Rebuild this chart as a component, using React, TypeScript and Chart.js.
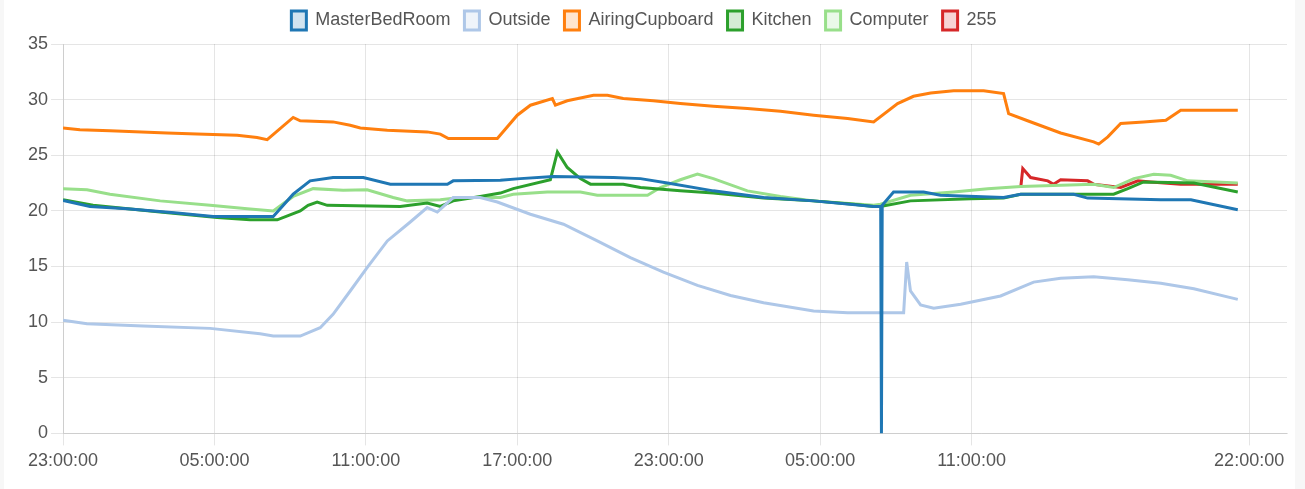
import React, { useEffect, useRef } from "react";
import { Chart, registerables } from "chart.js";

Chart.register(...registerables);

// x values are hours since 23:00:00 on the first day
const tickHours = [0, 6, 12, 18, 24, 30, 36, 47];

const masterHours = [0, 1.07, 2.54, 4.52, 5.95, 8.33, 9.12, 9.79, 10.7, 11.9, 12.97, 15.23, 15.46, 17.33, 18.12, 19.43, 21.81, 22.88, 23.95, 25.77, 27.76, 29.74, 32.12, 32.4, 32.43, 32.46, 32.91, 34.1, 34.77, 37.27, 37.95, 40.05, 40.6, 43.5, 44.69, 46.55];
const masterValues = [20.93, 20.4, 20.2, 19.8, 19.5, 19.5, 21.5, 22.7, 23.0, 23.0, 22.4, 22.4, 22.7, 22.75, 22.9, 23.1, 23.0, 22.9, 22.5, 21.8, 21.2, 20.9, 20.4, 20.4, 0, 20.5, 21.7, 21.7, 21.4, 21.2, 21.5, 21.5, 21.15, 21.0, 21.0, 20.1];

const outsideHours = [0, 0.95, 3.17, 5.83, 7.81, 8.33, 9.4, 10.19, 10.7, 11.38, 12.05, 12.85, 13.76, 14.43, 14.83, 15.46, 16.53, 17.21, 18.52, 19.83, 21.17, 22.48, 23.79, 25.14, 26.45, 27.76, 29.74, 31.09, 33.31, 33.43, 33.58, 33.98, 34.5, 35.57, 37.15, 38.46, 39.53, 40.84, 42.19, 43.5, 44.81, 46.55];
const outsideValues = [10.17, 9.86, 9.65, 9.44, 8.96, 8.75, 8.75, 9.5, 10.7, 12.8, 14.9, 17.3, 19.0, 20.3, 19.9, 21.2, 21.2, 20.8, 19.7, 18.8, 17.3, 15.8, 14.5, 13.3, 12.4, 11.75, 11.0, 10.85, 10.85, 15.4, 12.8, 11.55, 11.25, 11.6, 12.35, 13.6, 13.95, 14.07, 13.8, 13.5, 13.0, 12.05];

const airingHours = [0, 0.67, 1.86, 4.12, 5.31, 6.9, 7.69, 8.09, 9.12, 9.4, 10.7, 11.38, 11.78, 12.85, 14.43, 14.95, 15.27, 17.21, 18.0, 18.52, 19.39, 19.51, 19.98, 21.02, 21.57, 22.2, 23.39, 24.46, 25.77, 27.12, 28.43, 29.74, 31.09, 32.12, 33.07, 33.7, 34.38, 35.29, 36.48, 37.27, 37.47, 38.22, 39.53, 40.84, 41.04, 41.4, 41.91, 42.82, 43.7, 44.29, 46.55];
const airingValues = [27.45, 27.3, 27.2, 27.0, 26.9, 26.8, 26.6, 26.4, 28.4, 28.1, 28.0, 27.7, 27.45, 27.25, 27.1, 26.9, 26.5, 26.5, 28.6, 29.5, 30.1, 29.5, 29.9, 30.4, 30.4, 30.1, 29.9, 29.65, 29.4, 29.2, 28.95, 28.6, 28.3, 28.0, 29.65, 30.3, 30.6, 30.8, 30.8, 30.55, 28.75, 28.1, 27.0, 26.2, 26.0, 26.65, 27.85, 28.0, 28.15, 29.05, 29.05];

const kitchenHours = [0, 1.19, 3.85, 6.11, 7.41, 8.49, 9.4, 9.71, 10.07, 10.47, 13.36, 14.43, 14.95, 15.46, 16.53, 17.33, 17.84, 19.31, 19.59, 19.98, 20.5, 20.9, 22.2, 22.88, 24.46, 25.77, 27.76, 29.74, 31.32, 32.12, 32.39, 33.58, 35.96, 37.27, 37.95, 41.63, 42.19, 42.82, 44.81, 46.55];
const kitchenValues = [21.0, 20.5, 19.9, 19.4, 19.2, 19.2, 20.0, 20.5, 20.8, 20.5, 20.4, 20.7, 20.4, 20.9, 21.3, 21.6, 22.0, 22.8, 25.3, 23.9, 22.9, 22.4, 22.4, 22.1, 21.8, 21.6, 21.15, 20.9, 20.6, 20.4, 20.4, 20.9, 21.1, 21.15, 21.5, 21.5, 22.0, 22.6, 22.5, 21.7];

const computerHours = [0, 0.95, 1.86, 3.85, 5.83, 7.3, 8.33, 9.12, 9.91, 11.1, 12.05, 13.08, 13.64, 14.95, 15.74, 17.33, 17.84, 19.19, 20.5, 21.17, 23.16, 23.67, 24.46, 25.14, 25.77, 27.12, 28.43, 29.74, 32.12, 32.39, 33.58, 35.29, 36.64, 37.95, 40.84, 41.63, 42.43, 43.22, 43.89, 44.57, 46.55];
const computerValues = [22.0, 21.9, 21.5, 20.9, 20.5, 20.2, 20.0, 21.3, 22.0, 21.85, 21.9, 21.2, 20.9, 21.0, 21.2, 21.2, 21.5, 21.7, 21.7, 21.4, 21.4, 22.1, 22.8, 23.3, 22.9, 21.8, 21.3, 20.9, 20.5, 20.6, 21.4, 21.7, 22.0, 22.2, 22.4, 22.1, 22.9, 23.3, 23.2, 22.7, 22.5];

const sensorHours = [37.95, 38.03, 38.34, 39.02, 39.25, 39.53, 40.6, 40.84, 41.91, 42.59, 43.1, 44.29, 46.55];
const sensorValues = [22.1, 23.8, 23.0, 22.7, 22.4, 22.8, 22.7, 22.4, 22.1, 22.7, 22.6, 22.4, 22.4];

const seriesNames = ["MasterBedRoom", "Outside", "AiringCupboard", "Kitchen", "Computer", "255"];
const seriesColors = ["#1f77b4", "#aec7e8", "#ff7f0e", "#2ca02c", "#98df8a", "#d62728"];
const seriesFills = ["rgba(31,119,180,0.2)", "rgba(174,199,232,0.2)", "rgba(255,127,14,0.2)", "rgba(44,160,44,0.2)", "rgba(152,223,138,0.2)", "rgba(214,39,40,0.2)"];

const toPoints = (hs: number[], vs: number[]) => hs.map((h, i) => ({ x: h, y: vs[i] }));

const fmtHour = (v: number) => {
  const h = (23 + Math.round(v)) % 24;
  return (h < 10 ? "0" + h : "" + h) + ":00:00";
};

const legendTweak = {
  id: "legendTweak",
  beforeInit(chart: any) {
    const legend = chart.legend;
    if (!legend) return;
    const origFit = legend.fit;
    legend.fit = function () {
      origFit.call(this);
      this.height += 4;
    };
  },
  afterLayout(chart: any) {
    const legend = chart.legend;
    if (!legend) return;
    legend.left -= 12;
    legend.right -= 12;
  },
};

export default function App() {
  const ref = useRef<HTMLCanvasElement | null>(null);

  useEffect(() => {
    document.body.style.margin = "0";
    document.body.style.background = "#f7f7f7";
    const allData = [
      toPoints(masterHours, masterValues),
      toPoints(outsideHours, outsideValues),
      toPoints(airingHours, airingValues),
      toPoints(kitchenHours, kitchenValues),
      toPoints(computerHours, computerValues),
      toPoints(sensorHours, sensorValues),
    ];
    Chart.defaults.font.family = "'Liberation Sans', Arial, sans-serif";
    Chart.defaults.font.size = 18;
    Chart.defaults.color = "#555";
    const chart = new Chart(ref.current as HTMLCanvasElement, {
      type: "line",
      data: {
        datasets: seriesNames.map((name, i) => ({
          label: name,
          data: allData[i],
          borderColor: seriesColors[i],
          backgroundColor: seriesFills[i],
          borderWidth: 3,
          pointRadius: 0,
          tension: 0,
          fill: false,
        })),
      },
      plugins: [legendTweak],
      options: {
        animation: false,
        responsive: false,
        maintainAspectRatio: false,
        layout: { padding: { left: 21, right: 8, top: -3, bottom: 12 } },
        plugins: {
          legend: {
            position: "top",
            labels: { boxWidth: 15, boxHeight: 19, padding: 14, color: "#555" },
          },
          tooltip: { enabled: false },
        },
        scales: {
          x: {
            type: "linear",
            min: 0,
            max: 48.5,
            afterBuildTicks: (axis: any) => {
              axis.ticks = tickHours.map((v) => ({ value: v }));
            },
            ticks: {
              autoSkip: false,
              maxRotation: 0,
              padding: 5,
              callback: (v: any) => fmtHour(Number(v)),
            },
            grid: { color: "rgba(0,0,0,0.1)", tickLength: 12 },
          },
          y: {
            min: 0,
            max: 35,
            ticks: { stepSize: 5, padding: 3 },
            grid: { color: "rgba(0,0,0,0.1)", tickLength: 12 },
          },
        },
      },
    });
    return () => chart.destroy();
  }, []);

  return (
    <div style={{ position: "absolute", left: 4, top: 0, width: 1291, height: 489, background: "#fff" }}>
      <canvas ref={ref} width={1291} height={489} style={{ display: "block" }} />
    </div>
  );
}
